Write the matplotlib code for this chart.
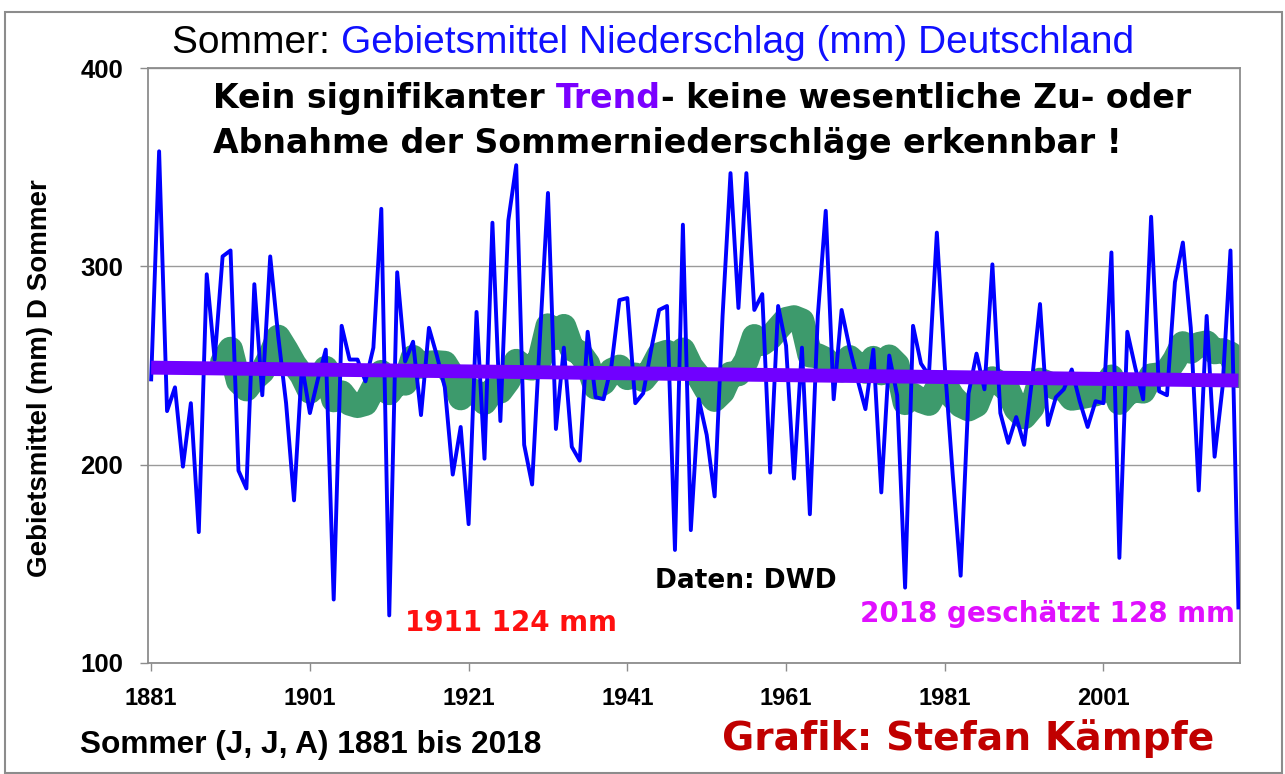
import numpy as np
import pandas as pd
import matplotlib.pyplot as plt
from matplotlib.patches import Rectangle

# Sommerniederschlag Deutschland (mm), 1881-2018
jahre = np.arange(1881, 2019)
niederschlag = [
    243, 358, 227, 239, 199, 231, 166, 296, 253, 305,   # 1881-1890
    308, 197, 188, 291, 235, 305, 265, 231, 182, 250,   # 1891-1900
    226, 243, 258, 132, 270, 253, 253, 242, 259, 329,   # 1901-1910
    124, 297, 252, 262, 225, 269, 255, 239, 195, 219,   # 1911-1920
    170, 277, 203, 322, 222, 323, 351, 210, 190, 265,   # 1921-1930
    337, 218, 259, 209, 202, 267, 234, 233, 250, 283,   # 1931-1940
    284, 231, 236, 258, 278, 280, 157, 321, 167, 233,   # 1941-1950
    215, 184, 275, 347, 279, 347, 278, 286, 196, 280,   # 1951-1960
    260, 193, 259, 175, 275, 328, 233, 278, 259, 243,   # 1961-1970
    228, 258, 186, 255, 235, 138, 270, 251, 245, 317,   # 1971-1980
    250, 195, 144, 236, 256, 238, 301, 226, 211, 224,   # 1981-1990
    210, 243, 281, 220, 234, 238, 248, 232, 219, 232,   # 1991-2000
    231, 307, 153, 267, 249, 233, 325, 237, 235, 292,   # 2001-2010
    312, 269, 187, 275, 204, 239, 308, 128,             # 2011-2018
]
x_ticks = [1881, 1901, 1921, 1941, 1961, 1981, 2001]
y_ticks = [100, 200, 300, 400]

# gleitendes 10-Jahres-Mittel und linearer Trend
mittel10 = pd.Series(niederschlag).rolling(10).mean()
trend = np.polyval(np.polyfit(jahre, niederschlag, 1), jahre)

plt.rcParams['font.family'] = ['Liberation Sans', 'DejaVu Sans']
FETT = ['DejaVu Sans']   # breite, fette Schrift wie Arial Black

W, H = 1285, 774
fig = plt.figure(figsize=(W / 100, H / 100), dpi=100)


def fx(px):
    return px / W


def fy(py):
    return 1 - py / H


# Rahmen um die ganze Grafik
fig.patches.append(Rectangle((fx(5), fy(773)), fx(1282) - fx(5), fy(12) - fy(773),
                             transform=fig.transFigure, fill=False,
                             edgecolor='#8c8c8c', lw=1.5))

ax = fig.add_axes([fx(148), fy(663), fx(1240) - fx(148), fy(68) - fy(663)])

ax.plot(jahre, mittel10, color='#3d9a6c', lw=18, solid_capstyle='round',
        solid_joinstyle='round', zorder=2)
ax.plot(jahre, niederschlag, color='#0000ff', lw=2.8, zorder=3)
ax.plot(jahre, trend, color='#7000ff', lw=10, solid_capstyle='butt', zorder=4)

ax.set_xlim(1880.6, 2018.2)
ax.set_ylim(100, 400)
ax.set_xticks(x_ticks)
ax.set_yticks(y_ticks)
ax.tick_params(axis='x', length=6, width=1, color='#8c8c8c', pad=11,
               labelsize=17)
ax.tick_params(axis='y', length=6, width=1, color='#8c8c8c', pad=12,
               labelsize=18.5)
for lab in ax.get_xticklabels() + ax.get_yticklabels():
    lab.set_fontweight('bold')
ax.grid(axis='y', color='#9a9a9a', lw=1)
ax.set_axisbelow(True)
for sp in ax.spines.values():
    sp.set_color('#8c8c8c')
    sp.set_linewidth(1.3)

fig.text(fx(40), fy(378), 'Gebietsmittel (mm) D Sommer', rotation=90,
         ha='center', va='center', fontsize=20, fontweight='bold')


def bunt(x, y, teile, **kw):
    # Textstücke in verschiedenen Farben hintereinander setzen
    text, farbe = teile[0]
    t = fig.text(fx(x), fy(y), text, color=farbe, va='baseline', **kw)
    for text, farbe in teile[1:]:
        t = ax.annotate(text, xy=(1, 0), xycoords=t, va='bottom', ha='left',
                        color=farbe, annotation_clip=False, **kw)
    return t


bunt(172, 53, [('Sommer: ', 'black'),
               ('Gebietsmittel Niederschlag (mm) Deutschland', '#1010ff')],
     fontsize=28)
bunt(213, 108, [('Kein signifikanter ', 'black'), ('Trend', '#7a00ff'),
                ('- keine wesentliche Zu- oder', 'black')],
     fontsize=23.9, fontweight='bold', family=FETT)
fig.text(fx(213), fy(153), 'Abnahme der Sommerniederschläge erkennbar !',
         fontsize=23.9, fontweight='bold', va='baseline', family=FETT)

fig.text(fx(655), fy(588), 'Daten: DWD', fontsize=19, fontweight='bold',
         va='baseline', family=FETT)
fig.text(fx(405), fy(631), '1911 124 mm', fontsize=20, fontweight='bold',
         color='#ff1010', va='baseline', family=FETT)
fig.text(fx(860), fy(622), '2018 geschätzt 128 mm', fontsize=20,
         fontweight='bold', color='#e010ff', va='baseline', family=FETT)
fig.text(fx(80), fy(753), 'Sommer (J, J, A) 1881 bis 2018', fontsize=22.8,
         fontweight='bold', va='baseline')
fig.text(fx(722), fy(750), 'Grafik: Stefan Kämpfe', fontsize=28.3,
         fontweight='bold', color='#c00000', va='baseline', family=FETT)

plt.savefig('out.png', dpi=100)
